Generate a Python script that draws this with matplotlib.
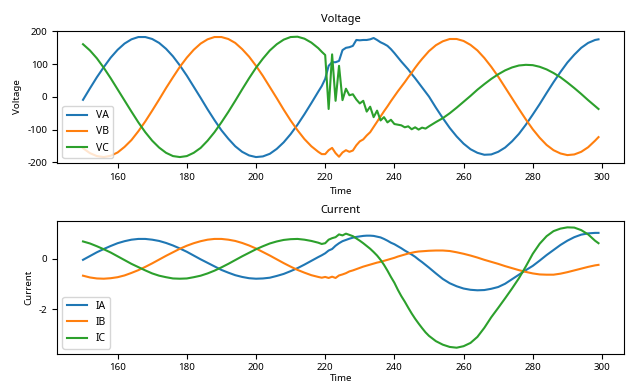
import matplotlib
matplotlib.use("Agg")
import matplotlib.pyplot as plt

plt.rcParams['font.family'] = ['Noto Sans', 'DejaVu Sans']
plt.rcParams['axes.unicode_minus'] = False

# sample times (denser around the fault)
time = [150, 152, 154, 156, 158, 160, 162, 164, 166, 168, 170, 172, 174, 176, 178, 180, 182,
        184, 186, 188, 190, 192, 194, 196, 198, 200, 202, 204, 206, 208, 210, 212, 214, 216,
        218, 219, 220, 221, 222, 223, 224, 225, 226, 227, 228, 229, 230, 231, 232, 233, 234,
        235, 236, 237, 238, 239, 240, 241, 242, 243, 244, 245, 246, 247, 248, 249, 250,
        252, 254, 256, 258, 260, 262, 264, 266, 268, 270, 272, 274, 276, 278, 280, 282, 284,
        286, 288, 290, 292, 294, 296, 298, 299]

# voltages
va = [-9, 26, 60, 91, 120, 144, 163, 176, 183, 183, 177, 165, 147, 124, 96, 65, 31, -3,
      -38, -71, -102, -128, -151, -168, -179, -184, -182, -174, -159, -139, -114, -85, -53, -19,
      16, 33, 55, 95, 106, 106, 110, 143, 150, 152, 156, 174, 173, 174, 174, 176, 180,
      174, 167, 162, 156, 146, 134, 121, 108, 96, 84, 70, 57, 43, 29, 15, 1,
      -33, -65, -95, -121, -143, -160, -171, -177, -176, -168, -155, -136, -113, -85, -54, -22, 12,
      45, 76, 105, 129, 150, 165, 174, 176]
vb = [-157, -172, -181, -184, -180, -170, -153, -132, -105, -75, -42, -8, 27, 60, 92, 120, 144,
      163, 176, 183, 183, 177, 165, 146, 123, 95, 64, 30, -4, -39, -72, -102, -129, -151,
      -168, -175, -175, -163, -156, -172, -183, -170, -163, -168, -164, -148, -136, -130, -118, -108, -92,
      -76, -60, -44, -29, -13, 2, 17, 31, 45, 60, 74, 89, 103, 116, 128, 140,
      158, 170, 177, 177, 171, 159, 142, 119, 92, 62, 29, -4, -37, -69, -99, -125, -147,
      -163, -173, -178, -176, -168, -154, -134, -123]
vc = [161, 142, 118, 89, 57, 23, -11, -45, -78, -108, -134, -155, -171, -181, -184, -181, -171,
      -156, -134, -108, -78, -46, -12, 23, 57, 89, 117, 142, 161, 175, 183, 184, 178, 166,
      149, 138, 128, -37, 130, -12, 95, -10, 25, 5, 8, -8, -20, -12, -45, -30, -62,
      -42, -72, -62, -78, -70, -83, -85, -87, -93, -90, -99, -93, -100, -94, -97, -90,
      -77, -65, -50, -33, -15, 3, 22, 39, 55, 69, 81, 90, 96, 98, 97, 92, 84,
      73, 60, 44, 27, 9, -10, -28, -37]

# currents
ia = [-0.04, 0.11, 0.26, 0.39, 0.51, 0.62, 0.70, 0.76, 0.79, 0.79, 0.76, 0.71, 0.63, 0.53, 0.41, 0.28, 0.13,
      -0.02, -0.16, -0.30, -0.44, -0.55, -0.65, -0.72, -0.77, -0.79, -0.78, -0.75, -0.68, -0.60, -0.49, -0.37, -0.23, -0.08,
      0.07, 0.14, 0.22, 0.33, 0.39, 0.52, 0.62, 0.70, 0.75, 0.80, 0.84, 0.87, 0.89, 0.91, 0.92, 0.92, 0.91,
      0.88, 0.85, 0.79, 0.72, 0.64, 0.58, 0.50, 0.42, 0.33, 0.25, 0.17, 0.08, -0.03, -0.13, -0.24, -0.35,
      -0.58, -0.80, -0.97, -1.09, -1.18, -1.23, -1.25, -1.24, -1.19, -1.12, -0.99, -0.81, -0.63, -0.45, -0.28, -0.07, 0.15,
      0.35, 0.55, 0.72, 0.86, 0.96, 1.01, 1.03, 1.03]
ib = [-0.67, -0.74, -0.78, -0.79, -0.77, -0.73, -0.66, -0.56, -0.45, -0.32, -0.18, -0.03, 0.12, 0.26, 0.40, 0.52, 0.62,
      0.70, 0.76, 0.79, 0.79, 0.76, 0.71, 0.63, 0.53, 0.41, 0.27, 0.13, -0.02, -0.17, -0.31, -0.44, -0.55, -0.65,
      -0.72, -0.75, -0.72, -0.76, -0.71, -0.76, -0.66, -0.62, -0.57, -0.50, -0.46, -0.41, -0.36, -0.31, -0.27, -0.23, -0.19,
      -0.15, -0.12, -0.08, -0.04, 0.00, 0.04, 0.09, 0.13, 0.17, 0.21, 0.24, 0.27, 0.29, 0.30, 0.31, 0.32,
      0.33, 0.33, 0.31, 0.26, 0.20, 0.13, 0.05, -0.04, -0.12, -0.20, -0.29, -0.37, -0.45, -0.52, -0.58, -0.62, -0.63,
      -0.63, -0.59, -0.53, -0.46, -0.39, -0.32, -0.26, -0.24]
ic = [0.69, 0.61, 0.50, 0.38, 0.25, 0.10, -0.05, -0.20, -0.33, -0.46, -0.58, -0.67, -0.73, -0.78, -0.79, -0.78, -0.73,
      -0.67, -0.58, -0.47, -0.34, -0.20, -0.05, 0.10, 0.24, 0.38, 0.50, 0.61, 0.69, 0.75, 0.78, 0.79, 0.76, 0.71,
      0.64, 0.59, 0.62, 0.76, 0.82, 0.86, 0.97, 0.93, 1.00, 0.95, 0.90, 0.81, 0.72, 0.62, 0.51, 0.40, 0.27,
      0.13, -0.04, -0.24, -0.47, -0.72, -0.95, -1.23, -1.48, -1.70, -1.94, -2.17, -2.38, -2.57, -2.75, -2.92, -3.06,
      -3.27, -3.41, -3.50, -3.53, -3.47, -3.34, -3.10, -2.74, -2.32, -1.95, -1.57, -1.18, -0.77, -0.30, 0.20, 0.60, 0.90,
      1.10, 1.20, 1.25, 1.24, 1.14, 0.97, 0.72, 0.62]

fig, (ax1, ax2) = plt.subplots(2, 1, figsize=(6.29, 3.87), dpi=100)
fig.subplots_adjust(left=0.091, right=0.9925, top=0.9207, bottom=0.086, hspace=0.44)

ax1.plot(time, va, label='VA')
ax1.plot(time, vb, label='VB')
ax1.plot(time, vc, label='VC')
ax1.set_title('Voltage', fontsize=8)
ax1.set_xlabel('Time', fontsize=7)
ax1.set_ylabel('Voltage', fontsize=7)
ax1.set_yticks([-200, -100, 0, 100, 200])
ax1.legend(loc='lower left', fontsize=7.5)
ax1.tick_params(labelsize=7)

ax2.plot(time, ia, label='IA')
ax2.plot(time, ib, label='IB')
ax2.plot(time, ic, label='IC')
ax2.set_title('Current', fontsize=8)
ax2.set_xlabel('Time', fontsize=7, labelpad=1)
ax2.set_ylabel('Current', fontsize=7)
ax2.set_yticks([-2, 0])
ax2.legend(loc='lower left', fontsize=7.5)
ax2.tick_params(labelsize=7)

fig.savefig('out.png', dpi=100)
